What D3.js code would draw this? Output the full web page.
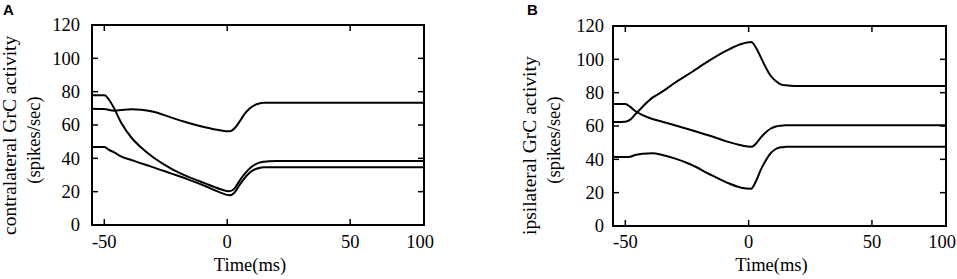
<!DOCTYPE html>
<html>
<head>
<meta charset="utf-8">
<script src="https://cdn.jsdelivr.net/npm/d3@7"></script>
<style>
  body { margin: 0; background: #fff; }
  text { font-family: 'Liberation Serif', 'Times New Roman', serif; fill: #000; }
</style>
</head>
<body>
<script>
const W = 957
const H = 279

// shared time samples (ms)
const time = [-55, -50, -48, -46, -43, -39, -35, -30, -23, -16, -9, -3, 1, 3, 5, 7, 9, 11, 13, 15, 17, 20, 30, 50, 100]

// panel A: contralateral GrC activity
const contraA = [77.8, 77.8, 75, 70, 61, 52.5, 46.5, 40.5, 34, 29, 25, 21.6, 20.2, 22, 26.5, 30.5, 33.8, 36, 37.4, 38, 38.3, 38.4, 38.4, 38.4, 38.4]
const contraB = [69.8, 69.6, 69, 68.6, 69, 69.4, 69.2, 68, 64.6, 61.4, 58.6, 56.8, 56.2, 58, 62, 66.5, 69.8, 71.8, 72.9, 73.3, 73.4, 73.4, 73.4, 73.4, 73.4]
const contraC = [46.8, 46.8, 45, 43.6, 41, 39, 37, 34.6, 31, 27.4, 23.4, 19.6, 17.8, 19.5, 24, 28, 31.2, 33.2, 34.2, 34.6, 34.7, 34.7, 34.7, 34.7, 34.7]

// panel B: ipsilateral GrC activity
const ipsiA = [62.4, 62.6, 63.8, 67, 71.6, 77, 80.6, 85.8, 92.4, 99.2, 105.2, 109.2, 110.4, 107, 101, 95, 90, 87, 85, 84.4, 84.1, 84, 84, 84, 84]
const ipsiB = [73.2, 73.2, 71.5, 69, 66.5, 64.2, 62.6, 60.5, 57.5, 54.3, 50.8, 48.4, 47.5, 49.5, 53.2, 56.3, 58.5, 59.7, 60.2, 60.4, 60.4, 60.4, 60.4, 60.4, 60.4]
const ipsiC = [41.6, 41.4, 41.6, 42.6, 43.4, 43.6, 42.6, 40.6, 36.6, 31.2, 26.2, 23, 22.4, 27, 34, 39.5, 43.8, 46.2, 47.2, 47.5, 47.6, 47.6, 47.6, 47.6, 47.6]

const xTicks = [-50, 0, 50, 100]
const yTicks = [0, 20, 40, 60, 80, 100, 120]

const fs = '18.5px'

const panels = [
  { letter: 'A', lx: 3, left: 92, right: 424, top: 25, bottom: 225, yEnd: 80,
    label1: 'contralateral GrC activity', b1: 16, label2: '(spikes/sec)', b2: 40, tx: 250,
    series: [contraA, contraB, contraC] },
  { letter: 'B', lx: 527, left: 613, right: 946, top: 26, bottom: 226, yEnd: 604,
    label1: 'ipsilateral GrC activity', b1: 536, label2: '(spikes/sec)', b2: 560, tx: 771.5,
    series: [ipsiA, ipsiB, ipsiC] }
]

const svg = d3.select('body').append('svg')
  .attr('width', W)
  .attr('height', H)

const drawPanel = p => {
  const g = svg.append('g')
  const w = p.right - p.left

  // axis in the figure is stretched before 50 and squeezed after it
  const x = d3.scaleLinear()
    .domain([-55, 50, 100])
    .range([p.left, p.left + w * 0.7776, p.right])
  const y = d3.scaleLinear()
    .domain([0, 120])
    .range([p.bottom, p.top])

  const line = d3.line()
    .x((d, i) => x(time[i]))
    .y(d => y(d))
    .curve(d3.curveMonotoneX)

  g.selectAll('path.curve')
    .data(p.series)
    .enter().append('path')
    .attr('class', 'curve')
    .attr('d', d => line(d))
    .attr('fill', 'none')
    .attr('stroke', '#000')
    .attr('stroke-width', 2)

  // inner ticks on all sides
  const tl = 6
  g.selectAll('g.yt')
    .data(yTicks.slice(1, -1))
    .enter().append('g')
    .each(function (d) {
      const s = d3.select(this)
      s.append('line').attr('x1', p.left).attr('x2', p.left + tl).attr('y1', y(d)).attr('y2', y(d))
      s.append('line').attr('x1', p.right).attr('x2', p.right - tl).attr('y1', y(d)).attr('y2', y(d))
    })
    .selectAll('line').attr('stroke', '#000').attr('stroke-width', 1.5)

  g.selectAll('g.xt')
    .data(xTicks.slice(0, -1))
    .enter().append('g')
    .each(function (d) {
      const s = d3.select(this)
      s.append('line').attr('x1', x(d)).attr('x2', x(d)).attr('y1', p.bottom).attr('y2', p.bottom - tl)
      s.append('line').attr('x1', x(d)).attr('x2', x(d)).attr('y1', p.top).attr('y2', p.top + tl)
    })
    .selectAll('line').attr('stroke', '#000').attr('stroke-width', 1.5)

  g.append('rect')
    .attr('x', p.left)
    .attr('y', p.top)
    .attr('width', w)
    .attr('height', p.bottom - p.top)
    .attr('fill', 'none')
    .attr('stroke', '#000')
    .attr('stroke-width', 2)

  g.selectAll('text.yl')
    .data(yTicks)
    .enter().append('text')
    .attr('x', p.yEnd)
    .attr('y', d => y(d))
    .attr('dy', '0.35em')
    .attr('text-anchor', 'end')
    .style('font-size', fs)
    .text(d => d)

  // last label sits a little inside the frame edge
  g.selectAll('text.xl')
    .data(xTicks)
    .enter().append('text')
    .attr('x', d => x(d) - (d === 100 ? 4 : 0))
    .attr('y', 248)
    .attr('text-anchor', 'middle')
    .style('font-size', fs)
    .text(d => d)

  g.append('text')
    .attr('x', p.tx)
    .attr('y', 271)
    .attr('text-anchor', 'middle')
    .style('font-size', fs)
    .text('Time(ms)')

  g.append('text')
    .attr('transform', `translate(${p.b1},235) rotate(-90)`)
    .attr('text-anchor', 'start')
    .style('font-size', '19.5px')
    .text(p.label1)

  g.append('text')
    .attr('transform', `translate(${p.b2},140) rotate(-90)`)
    .attr('text-anchor', 'middle')
    .style('font-size', fs)
    .text(p.label2)

  g.append('text')
    .attr('x', p.lx)
    .attr('y', 15)
    .style('font-family', 'Arial, "Liberation Sans", sans-serif')
    .style('font-weight', 'bold')
    .style('font-size', '15px')
    .text(p.letter)
}

panels.forEach(drawPanel)
</script>
</body>
</html>
